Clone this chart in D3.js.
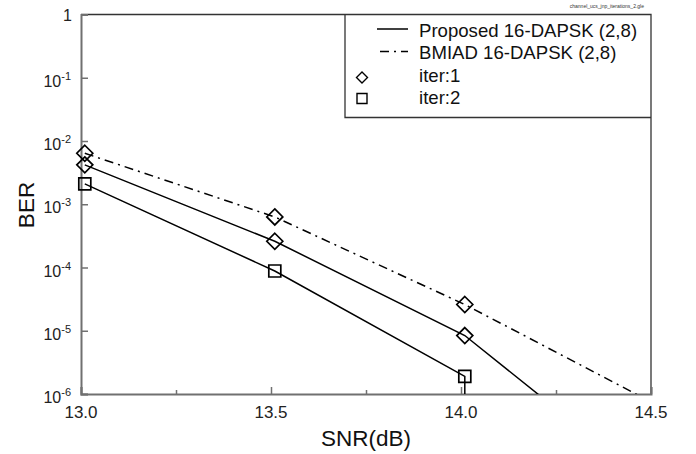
<!DOCTYPE html>
<html><head><meta charset="utf-8">
<script src="https://cdn.jsdelivr.net/npm/d3@7"></script>
<style>body{margin:0;background:#fff}svg{display:block}text{font-family:"Liberation Sans",Arial,sans-serif}</style>
</head><body>
<svg id="c" width="696" height="454"></svg>
<script>
// ---- data ----
const snr = [13.01, 13.51, 14.01, 14.51];
const proposedIter1 = [4.2e-3, 2.6e-4, 8.4e-6, 3.3e-8];
const bmiadIter1 = [6.4e-3, 6.3e-4, 2.6e-5, 7.0e-7];
const proposedIter2 = [2.1e-3, 8.8e-5, 1.9e-6, 0]; // 0 = no errors (drops off the log axis)
const xTicks = [13.0, 13.5, 14.0, 14.5];
const xMinor = [13.25, 13.75, 14.25];
const yTicks = [1, 1e-1, 1e-2, 1e-3, 1e-4, 1e-5, 1e-6];
const legendLabels = ["Proposed 16-DAPSK (2,8)", "BMIAD 16-DAPSK (2,8)", "iter:1", "iter:2"];

const L = 81, R = 651, T = 14.5, B = 394;
const svg = d3.select("#c");
const x = d3.scaleLinear().domain([13, 14.5]).range([L, R]);
const y = d3.scaleLog().domain([1e-6, 1]).range([B, T]);

svg.append("defs").append("clipPath").attr("id", "clip")
  .append("rect").attr("x", L).attr("y", T).attr("width", R - L).attr("height", B - T);

// frame top/right
svg.append("path").attr("d", `M${L},${T}H${R}V${B}`).attr("fill", "none").attr("stroke", "#333").attr("stroke-width", 1.3);

// axes
const axisCol = "#707070";
const gx = svg.append("g").attr("transform", `translate(0,${B})`)
  .call(d3.axisBottom(x).tickValues(xTicks).tickSize(-7).tickFormat(""));
const gxm = svg.append("g").attr("transform", `translate(0,${B})`)
  .call(d3.axisBottom(x).tickValues(xMinor).tickSize(-4).tickFormat(""));
const gy = svg.append("g").attr("transform", `translate(${L},0)`)
  .call(d3.axisLeft(y).tickValues(yTicks).tickSize(-7).tickFormat(""));
[gx, gxm, gy].forEach(g => {
  g.selectAll("path.domain").attr("stroke", axisCol).attr("stroke-width", 2);
  g.selectAll(".tick line").attr("stroke", axisCol).attr("stroke-width", 1.5);
});
gxm.select("path.domain").remove();

// x tick labels
svg.append("g").selectAll("text").data(xTicks).join("text")
  .attr("x", d => x(d)).attr("y", B + 24).attr("text-anchor", "middle")
  .attr("font-size", 17).attr("fill", "#222").text(d => d.toFixed(1));

// y tick labels
const yl = svg.append("g");
yTicks.forEach(v => {
  const e = Math.round(Math.log10(v));
  if (e === 0) {
    yl.append("text").attr("x", 72).attr("y", y(v) + 6.5).attr("text-anchor", "end")
      .attr("font-size", 16).attr("fill", "#222").text("1");
  } else {
    const t = yl.append("text").attr("x", 71).attr("y", y(v) + 9).attr("text-anchor", "end")
      .attr("font-size", 16).attr("fill", "#222");
    t.append("tspan").text("10");
    t.append("tspan").attr("dy", -7).attr("font-size", 11).text(String(e));
  }
});

// axis titles
svg.append("text").attr("x", 366).attr("y", 446).attr("text-anchor", "middle")
  .attr("font-size", 22.5).attr("fill", "#111").text("SNR(dB)");
svg.append("text").attr("transform", "translate(34,205) rotate(-90)").attr("text-anchor", "middle")
  .attr("font-size", 22.5).attr("fill", "#111").text("BER");

// file label
svg.append("text").attr("x", 644).attr("y", 7.5).attr("text-anchor", "end")
  .attr("font-size", 5).attr("fill", "#333").text("channel_ucs_jnp_iterations_2.gle");

// lines
const plotG = svg.append("g").attr("clip-path", "url(#clip)");
function pts(vals) {
  return vals.map((v, i) => v > 0 ? [x(snr[i]), y(v)] : [x(snr[i - 1]), B + 50]);
}
const line = d3.line();
plotG.append("path").attr("d", line(pts(proposedIter1))).attr("fill", "none").attr("stroke", "#000").attr("stroke-width", 1.5);
plotG.append("path").attr("d", line(pts(proposedIter2))).attr("fill", "none").attr("stroke", "#000").attr("stroke-width", 1.5);
plotG.append("path").attr("d", line(pts(bmiadIter1))).attr("fill", "none").attr("stroke", "#000").attr("stroke-width", 1.5)
  .attr("stroke-dasharray", "9,5,2,5");

// markers
const diamond = (cx, cy, r) => `M${cx},${cy - r}L${cx + r},${cy}L${cx},${cy + r}L${cx - r},${cy}Z`;
const square = (cx, cy, h) => `M${cx - h},${cy - h}H${cx + h}V${cy + h}H${cx - h}Z`;
const mk = svg.append("g").attr("fill", "none").attr("stroke", "#000").attr("stroke-width", 1.7);
[proposedIter1, bmiadIter1].forEach(vals => {
  vals.slice(0, 3).forEach((v, i) => mk.append("path").attr("d", diamond(x(snr[i]), y(v), 8)));
});
proposedIter2.slice(0, 3).forEach((v, i) => mk.append("path").attr("d", square(x(snr[i]), y(v), 6)));

// legend
const lg = svg.append("g");
lg.append("path").attr("d", `M345,${T}V117.5H${R}`).attr("fill", "none").attr("stroke", "#333").attr("stroke-width", 1.3);
const rowY = [36.5, 59, 81.5, 103.5];
legendLabels.forEach((s, i) => {
  lg.append("text").attr("x", 419).attr("y", rowY[i]).attr("font-size", 18.6).attr("fill", "#111").text(s);
});
lg.append("line").attr("x1", 377).attr("x2", 408).attr("y1", rowY[0] - 7.5).attr("y2", rowY[0] - 7.5).attr("stroke", "#000").attr("stroke-width", 1.5);
lg.append("line").attr("x1", 377).attr("x2", 408).attr("y1", rowY[1] - 7.5).attr("y2", rowY[1] - 7.5).attr("stroke", "#000").attr("stroke-width", 1.5)
  .attr("stroke-dasharray", "9,5,2,5").attr("stroke-dashoffset", -3);
lg.append("path").attr("d", diamond(362, rowY[2] - 4, 5.5)).attr("fill", "none").attr("stroke", "#000").attr("stroke-width", 1.4);
lg.append("path").attr("d", square(362, rowY[3] - 5, 5)).attr("fill", "none").attr("stroke", "#000").attr("stroke-width", 1.4);
</script>
</body></html>
